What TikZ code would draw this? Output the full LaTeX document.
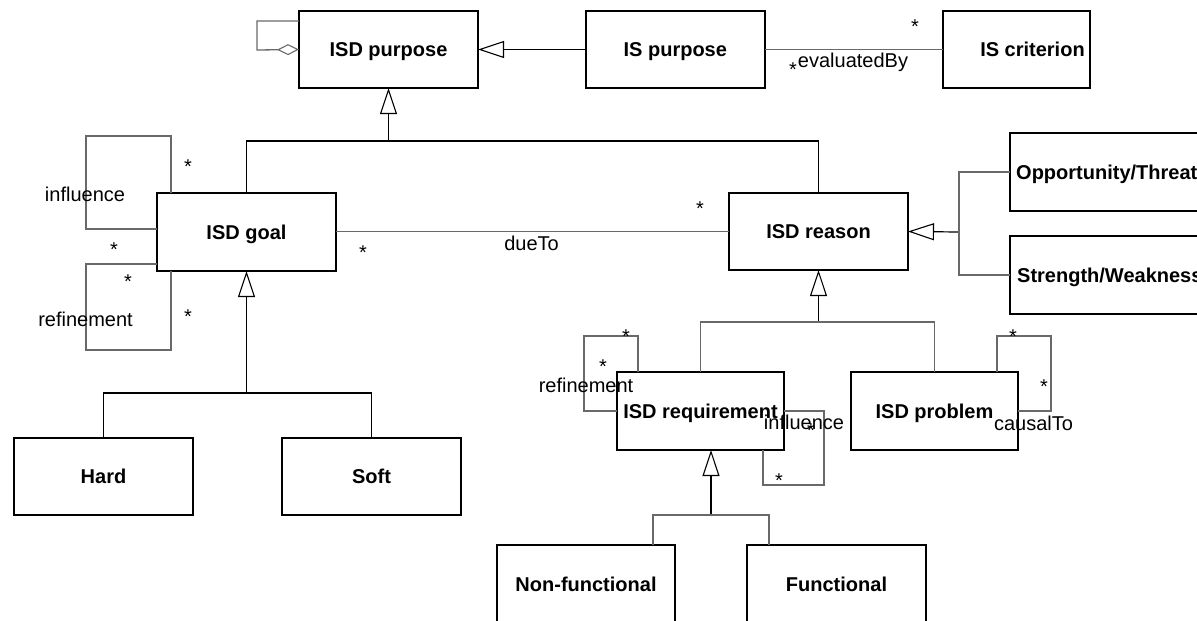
\documentclass[tikz,border=0pt]{standalone}
\usepackage{fontspec}
\setmainfont{Liberation Sans}
\usetikzlibrary{arrows.meta}
\definecolor{linegray}{RGB}{105,105,105}
\tikzset{
  cls/.style={draw=black, line width=1.8pt, outer sep=0pt, inner sep=0pt,
    minimum width=179pt, minimum height=77pt, text height=14.3pt, text depth=0pt,
    font=\fontsize{20}{24}\selectfont\bfseries},
  clstext/.style={inner sep=0pt, text height=14.3pt, text depth=0pt,
    font=\fontsize{20}{24}\selectfont\bfseries},
  assoc/.style={draw=linegray, line width=1.3pt},
  gen/.style={draw=black, line width=1.2pt},
  lbl/.style={inner sep=0pt, font=\fontsize{20}{24}\selectfont},
  inherit/.style={-{Triangle[open,length=26pt,width=17pt,line width=1.1pt]}},
  aggr/.style={-{Diamond[open,length=22pt,width=11pt,line width=1.1pt]}},
}
\begin{document}
\begin{tikzpicture}[x=1pt,y=-1pt]
\clip (0,0) rectangle (1197,621);

% classes
\node[cls] (ipurp)  at (388.5,49.5) {ISD purpose};
\node[cls] (ispurp) at (675.3,49.5) {IS purpose};
\node[cls, minimum width=147pt] (iscrit) at (1016.5,49.5) {};
\node[clstext] (iscritT) at (1032.5,49.5) {IS criterion};
\node[cls, minimum height=78pt] (goal)   at (246.5,232) {ISD goal};
\node[cls] (reason) at (818.5,231.5) {ISD reason};
\node[cls, minimum width=200pt, minimum height=78pt] (opp) at (1110,172) {};
\node[clstext, anchor=west] (oppT) at (1016,172) {Opportunity/Threat};
\node[cls, minimum width=200pt, minimum height=78pt] (str) at (1110,275) {};
\node[clstext, anchor=west] (strT) at (1017,275) {Strength/Weakness};
\node[cls, minimum width=167pt, minimum height=78pt] (req)  at (700.5,411) {ISD requirement};
\node[cls, minimum width=167pt, minimum height=78pt] (prob) at (934.5,411) {ISD problem};
\node[cls] (hard) at (103.5,476.5) {Hard};
\node[cls] (soft) at (371.5,476.5) {Soft};
\node[cls, minimum width=178pt, minimum height=78pt] (nonf) at (586,584) {Non-functional};
\node[cls, minimum height=78pt] (func) at (836.5,584) {Functional};

% junction points of the generalisation trees
\coordinate (jpurp) at (388.5,141);
\coordinate (jgoal) at (246.5,393);
\coordinate (jreason) at (818.5,322);
\coordinate (jside) at (959,232);
\coordinate (jreq) at (711,515);

% IS purpose specialises ISD purpose
\draw[gen, inherit] (ispurp.west) -- (ipurp.east);
% aggregation of ISD purpose with itself
\draw[assoc, aggr] (ipurp.west |- 0,21) -- (257,21) -- (257,50) -- (ipurp.west);
% evaluatedBy
\draw[assoc] (ispurp.east) -- (iscrit.west);

% ISD goal / ISD reason specialise ISD purpose
\draw[gen] (goal.north) |- (jpurp) -| (reason.north);
\draw[gen, inherit] (jpurp) -- (ipurp.south);

% dueTo
\draw[assoc] (goal.east |- 0,231.5) -- (reason.west);

% self associations of ISD goal
\draw[assoc] (goal.north -| 171,0) |- (86,136) |- (goal.west |- 0,229);
\draw[assoc] (goal.west |- 0,264) -| (86,350) -| (goal.south -| 171,0);

% Hard / Soft
\draw[gen, inherit] (jgoal) -- (goal.south);
\draw[gen] (hard.north) |- (jgoal) -| (soft.north);

% Opportunity/Threat, Strength/Weakness
\draw[gen, inherit] (jside) -- (reason.east);
\draw[assoc] (opp.west |- 0,172) -| (959,275) -- (str.west |- 0,275);

% ISD requirement / ISD problem
\draw[gen, inherit] (jreason) -- (reason.south);
\draw[assoc] (req.north) |- (jreason) -| (prob.north);

% self associations of ISD requirement and ISD problem
\draw[assoc] (req.north -| 638,0) |- (584,336) |- (req.west |- 0,411);
\draw[assoc] (req.east |- 0,411) -| (824,485) -| (req.south -| 763,0);
\draw[assoc] (prob.north -| 997,0) |- (1051,336) |- (prob.east |- 0,411);

% Non-functional / Functional
\draw[line width=2pt, -{Triangle[open,length=26pt,width=17pt,line width=1.1pt]}] (jreq) -- (req.south -| jreq);
\draw[assoc] (nonf.north -| 653,0) |- (jreq) -| (func.north -| 769,0);

% labels
\node[lbl] (lEval) at (853,62.5) {evaluatedBy};
\node[lbl] (lDue) at (531.5,243) {dueTo};
\node[lbl] (lGinf) at (85,194) {influence};
\node[lbl] (lGref) at (85.5,319) {refinement};
\node[lbl] (lRref) at (586,385.5) {refinement};
\node[lbl] (lRinf) at (804,422.5) {influence};
\node[lbl] (lCaus) at (1033.5,423) {causalTo};

% multiplicities
\foreach \px/\py in {793/66, 915/23, 188/163, 114/246, 128/278, 188/313,
    363/249, 700/205, 626/333, 603/363, 811/427, 779/477, 1013/333, 1044/383}
  \node[lbl] at (\px,\py+4) {*};
\end{tikzpicture}
\end{document}
